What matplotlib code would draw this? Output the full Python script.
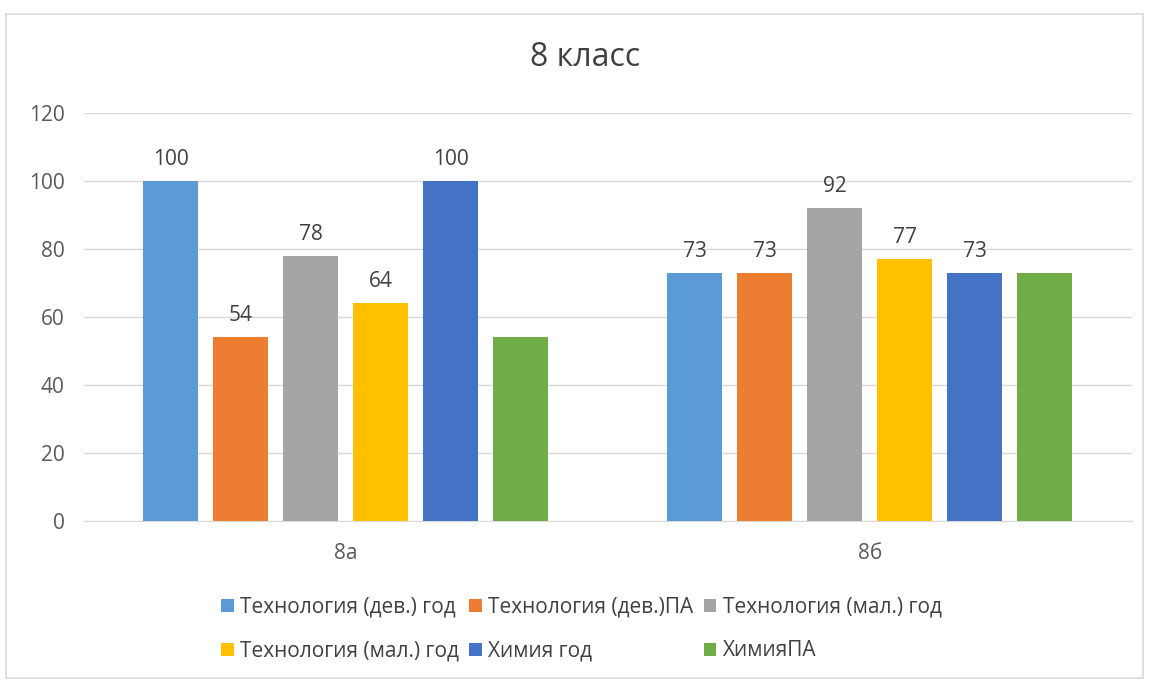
import matplotlib.pyplot as plt
import numpy as np
from matplotlib.patches import Rectangle

# data
classes = ['8а', '8б']
series_names = ['Технология (дев.) год', 'Технология (дев.)ПА', 'Технология (мал.) год',
                'Технология (мал.) год', 'Химия год', 'ХимияПА']
values = [
    [100, 73],
    [54, 73],
    [78, 92],
    [64, 77],
    [100, 73],
    [54, 73],
]
show_labels = [True, True, True, True, True, False]
colors = ['#5B9BD5', '#ED7D31', '#A5A5A5', '#FFC000', '#4472C4', '#70AD47']

plt.rcParams['font.family'] = ['Open Sans', 'DejaVu Sans']

fig = plt.figure(figsize=(11.49, 6.8), dpi=100)
ax = fig.add_axes([0.073, 0.234, 0.912, 0.6])

# chart border
fig.patches.append(Rectangle((0.005, 0.003), 0.99, 0.977, transform=fig.transFigure,
                             fill=False, edgecolor='#d9d9d9', linewidth=1.2))

x = np.arange(len(classes))
step = 0.1336
width = 0.105
handles = []
for i, (name, vals) in enumerate(zip(series_names, values)):
    pos = x + (i - 2.5) * step
    bars = ax.bar(pos, vals, width=width, color=colors[i], label=name, zorder=3)
    handles.append(bars)
    if show_labels[i]:
        for b, v in zip(bars, vals):
            ax.annotate(str(v), (b.get_x() + b.get_width() / 2, v), xytext=(0, 8),
                        textcoords='offset points', ha='center', va='bottom',
                        fontsize=15, color='#404040')

ax.set_xlim(-0.5, 1.5)
ax.set_ylim(0, 120)
ax.set_yticks(range(0, 121, 20))
ax.set_xticks(x)
ax.set_xticklabels(classes)
ax.tick_params(axis='both', length=0, labelsize=15, labelcolor='#595959')
ax.tick_params(axis='x', pad=16)
ax.tick_params(axis='y', pad=14)
ax.grid(axis='y', color='#d9d9d9', linewidth=1, zorder=0)
for s in ['top', 'right', 'left']:
    ax.spines[s].set_visible(False)
ax.spines['bottom'].set_color('#d9d9d9')

fig.text(0.509, 0.916, '8 класс', ha='center', va='center', fontsize=23, color='#404040')

# legend fills row by row, like the original
order = [0, 3, 1, 4, 2, 5]
fig.legend([handles[k] for k in order], [series_names[k] for k in order],
           loc='center', bbox_to_anchor=(0.506, 0.075), ncol=3, frameon=False,
           fontsize=15, labelcolor='#404040', handlelength=0.6, handleheight=0.6,
           handletextpad=0.3, columnspacing=0.5, labelspacing=1.1)

fig.savefig('out.png', dpi=100)
